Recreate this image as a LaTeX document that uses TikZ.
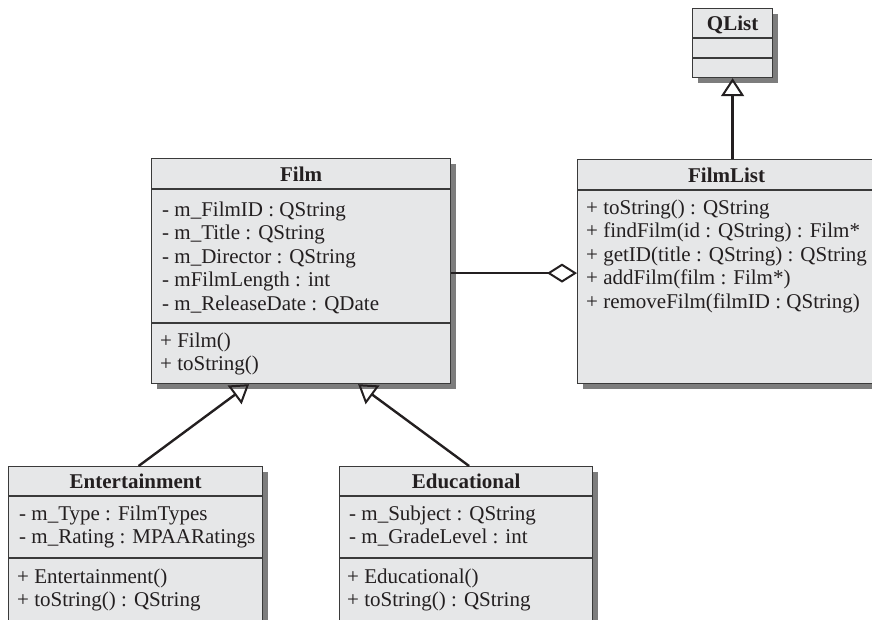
\documentclass[tikz,border=0pt]{standalone}
\usepackage{fontspec}
\setmainfont{Liberation Serif}
\usetikzlibrary{calc,arrows.meta,shadows}

\begin{document}
\begin{tikzpicture}[x=1pt,y=-1pt,
  font=\fontsize{21}{24}\selectfont,
  classbox/.style={draw=boxline,fill=boxfill,line width=1.2pt,inner sep=0pt,anchor=north west,
    drop shadow={shadow xshift=5pt,shadow yshift=-5pt,fill=shadowgray,opacity=1}},
  classname/.style={anchor=base,font=\fontsize{21}{24}\selectfont\bfseries,text=ink,inner sep=0pt},
  member/.style={anchor=base west,text=ink,inner sep=0pt},
  divider/.style={draw=boxline,line width=1.2pt},
  gen/.style={draw=ink,line width=2.4pt,-{Triangle[open,length=18pt,width=23pt,line width=2pt]}},
  aggr/.style={draw=ink,line width=2.4pt,-{Diamond[open,length=30pt,width=19pt,line width=2pt]}}]
\definecolor{boxfill}{HTML}{E6E7E8}
\definecolor{boxline}{HTML}{3A3A3A}
\definecolor{shadowgray}{HTML}{7D7D7D}
\definecolor{ink}{HTML}{231F20}
\useasboundingbox (0,0) rectangle (872,619);
\clip (0,0) rectangle (872,619);

% QList
\node[classbox,minimum width=80pt,minimum height=69pt] (qlist) at (692,8) {};
\node[classname] (qlistname) at (qlist.north |- 0,30) {QList};
\draw[divider] (qlist.west |- 0,38) -- (qlist.east |- 0,38);
\draw[divider] (qlist.west |- 0,58) -- (qlist.east |- 0,58);

% Film
\node[classbox,minimum width=299pt,minimum height=225pt] (film) at (151,158) {};
\node[classname] (filmname) at (film.north |- 0,181) {Film};
\draw[divider] (film.west |- 0,189) -- (film.east |- 0,189);
\draw[divider] (film.west |- 0,323) -- (film.east |- 0,323);
\foreach \txt [count=\i] in {- m\_FilmID : QString, - m\_Title : QString,
    - m\_Director : QString, - mFilmLength : int, - m\_ReleaseDate : QDate}
  \node[member] (filmattr\i) at (162,192.5+23.5*\i) {\txt};
\foreach \txt [count=\i] in {+ Film(), + toString()}
  \node[member] (filmop\i) at (160,323.5+23.5*\i) {\txt};

% FilmList
\node[classbox,minimum width=298pt,minimum height=224pt] (filmlist) at (577,159) {};
\node[classname] (filmlistname) at (filmlist.north |- 0,182) {FilmList};
\draw[divider] (filmlist.west |- 0,190) -- (filmlist.east |- 0,190);
\foreach \txt [count=\i] in {+ toString() : QString, + findFilm(id : QString) : Film*,
    + getID(title : QString) : QString, + addFilm(film : Film*),
    + removeFilm(filmID : QString)}
  \node[member] (filmlistop\i) at (586,190.5+23.5*\i) {\txt};

% Entertainment
\node[classbox,minimum width=254pt,minimum height=180pt] (ent) at (8,466) {};
\node[classname] (entname) at (ent.north |- 0,488) {Entertainment};
\draw[divider] (ent.west |- 0,496) -- (ent.east |- 0,496);
\draw[divider] (ent.west |- 0,558) -- (ent.east |- 0,558);
\foreach \txt [count=\i] in {- m\_Type : FilmTypes, - m\_Rating : MPAARatings}
  \node[member] (entattr\i) at (19,496.5+23.5*\i) {\txt};
\foreach \txt [count=\i] in {+ Entertainment(), + toString() : QString}
  \node[member] (entop\i) at (17,559.5+23.5*\i) {\txt};

% Educational
\node[classbox,minimum width=253pt,minimum height=180pt] (edu) at (339,466) {};
\node[classname] (eduname) at (edu.north |- 0,488) {Educational};
\draw[divider] (edu.west |- 0,496) -- (edu.east |- 0,496);
\draw[divider] (edu.west |- 0,558) -- (edu.east |- 0,558);
\foreach \txt [count=\i] in {- m\_Subject : QString, - m\_GradeLevel : int}
  \node[member] (eduattr\i) at (349,496.5+23.5*\i) {\txt};
\foreach \txt [count=\i] in {+ Educational(), + toString() : QString}
  \node[member] (eduop\i) at (347,559.5+23.5*\i) {\txt};

% relations
\draw[gen] (filmlist.north -| qlist.south) -- (qlist.south);
\draw[aggr] ([yshift=-2pt]film.east) -- ([yshift=-2pt]film.east -| filmlist.west);
\draw[gen] ([xshift=3pt]ent.north) -- ($(film.south)+(-52,0)$);
\draw[gen] ([xshift=3pt]edu.north) -- ($(film.south)+(57,0)$);
\end{tikzpicture}
\end{document}
